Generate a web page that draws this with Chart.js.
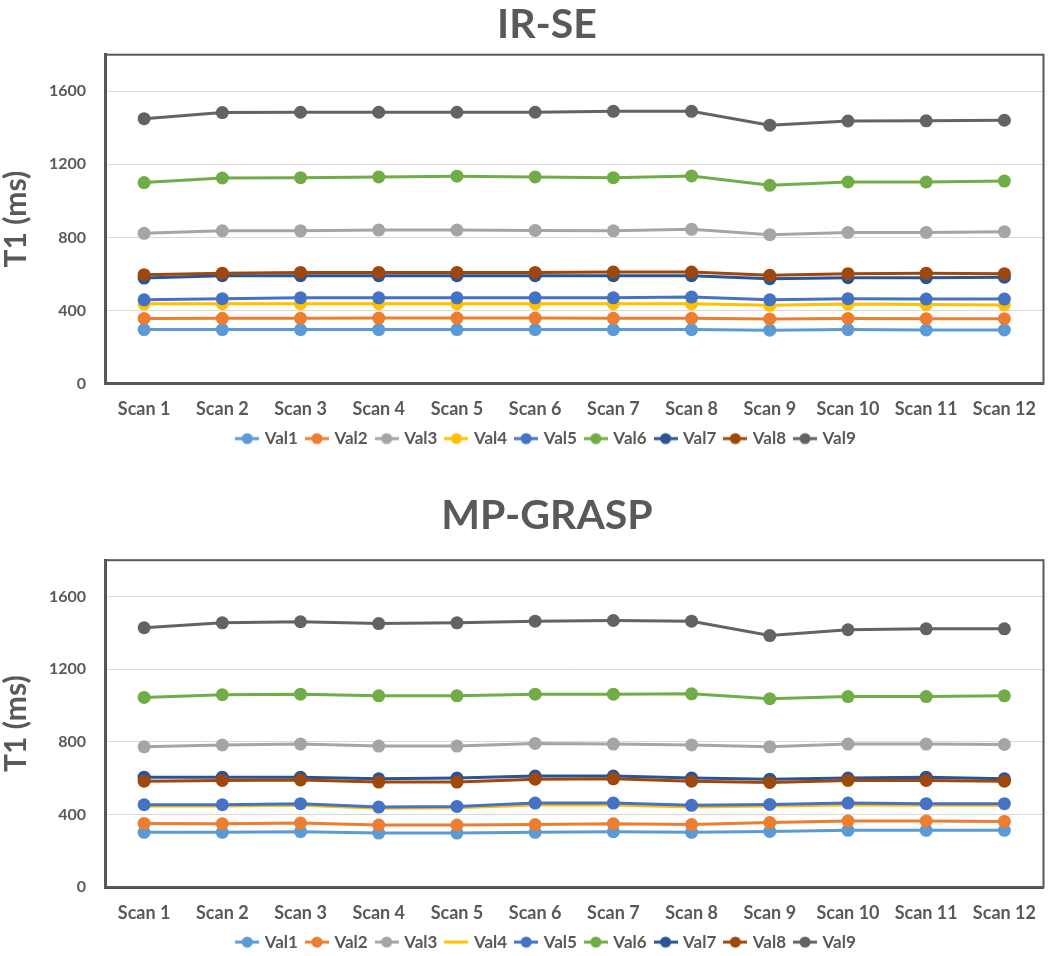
<!DOCTYPE html>
<html>
<head>
<meta charset="utf-8">
<script src="https://cdn.jsdelivr.net/npm/chart.js@4.4.1/dist/chart.umd.min.js"></script>
<style>
  html, body { margin: 0; padding: 0; background: #ffffff; overflow: hidden; }
  .wrap { position: absolute; left: 0; width: 1050px; height: 478px; }
</style>
</head>
<body>
<div class="wrap" style="top:0px"><canvas id="c1" width="1050" height="478"></canvas></div>
<div class="wrap" style="top:478px"><canvas id="c2" width="1050" height="478"></canvas></div>
<script>
// ---------- DATA ----------
const categories = ["Scan 1","Scan 2","Scan 3","Scan 4","Scan 5","Scan 6","Scan 7","Scan 8","Scan 9","Scan 10","Scan 11","Scan 12"];
const seriesNames = ["Val1","Val2","Val3","Val4","Val5","Val6","Val7","Val8","Val9"];
const yTicks = [0, 400, 800, 1200, 1600];
const chartTitles = ["IR-SE", "MP-GRASP"];

// IR-SE
const irse_val1 = [295,295,295,295,295,295,295,295,292,295,293,293];
const irse_val2 = [356,357,357,358,358,358,357,357,353,356,355,355];
const irse_val3 = [822,836,836,840,840,838,836,844,815,827,827,831];
const irse_val4 = [436,437,437,437,437,437,437,437,428,435,432,430];
const irse_val5 = [458,464,469,469,469,469,469,473,458,464,462,462];
const irse_val6 = [1100,1125,1127,1131,1135,1131,1127,1136,1085,1103,1103,1108];
const irse_val7 = [577,590,590,590,590,590,590,590,574,579,579,582];
const irse_val8 = [596,604,608,608,608,608,610,610,592,601,604,601];
const irse_val9 = [1450,1483,1485,1485,1485,1485,1490,1490,1414,1437,1438,1441];

// MP-GRASP
const grasp_val1 = [301,301,305,297,297,301,305,301,306,312,312,312];
const grasp_val2 = [350,349,352,341,341,344,349,344,355,363,363,361];
const grasp_val3 = [772,782,787,776,776,791,787,782,772,787,787,785];
const grasp_val4 = [446,446,450,434,436,452,452,441,446,452,450,450];
const grasp_val5 = [453,453,459,440,444,462,462,450,455,462,459,459];
const grasp_val6 = [1044,1059,1062,1053,1053,1062,1062,1064,1037,1049,1049,1053];
const grasp_val7 = [605,605,605,596,600,611,611,600,594,600,605,596];
const grasp_val8 = [583,587,590,578,578,594,596,583,576,587,587,583];
const grasp_val9 = [1428,1455,1461,1451,1455,1464,1468,1464,1385,1417,1422,1422];

// ---------- STYLE ----------
const colors = ["#5B9BD5","#ED7D31","#A5A5A5","#FFC000","#4472C4","#70AD47","#2A5493","#9E480E","#636363"];
const textColor = "#595959";
const FONT = "Lato, 'Open Sans', 'DejaVu Sans', sans-serif";

function makeMarker(color, withDot) {
  const c = document.createElement('canvas');
  c.width = 24; c.height = 14;
  const g = c.getContext('2d');
  g.strokeStyle = color; g.lineWidth = 3;
  g.beginPath(); g.moveTo(0, 7); g.lineTo(24, 7); g.stroke();
  if (withDot) {
    g.fillStyle = color;
    g.beginPath(); g.arc(12, 7, 5.5, 0, Math.PI * 2); g.fill();
  }
  return c;
}

const framePlugin = {
  id: 'frame',
  beforeDatasetsDraw(chart) {
    const {ctx, chartArea: {left, top, right, bottom}} = chart;
    ctx.save();
    ctx.strokeStyle = '#595959';
    ctx.lineWidth = 2;
    ctx.strokeRect(left, top, right - left, bottom - top);
    ctx.restore();
  }
};

function buildChart(canvasId, title, seriesData, noMarker, layoutCfg) {
  const markers = seriesNames.map((n, i) => makeMarker(colors[i], !noMarker.includes(i)));
  const datasets = seriesNames.map((name, i) => ({
    label: name,
    data: seriesData[i],
    borderColor: colors[i],
    backgroundColor: colors[i],
    pointBackgroundColor: colors[i],
    pointBorderWidth: 0,
    pointRadius: noMarker.includes(i) ? 0 : 6.5,
    borderWidth: 3,
    tension: 0,
    order: seriesNames.length - i
  }));
  return new Chart(document.getElementById(canvasId), {
    type: 'line',
    data: { labels: categories, datasets },
    plugins: [framePlugin],
    options: {
      responsive: false,
      animation: false,
      devicePixelRatio: 1,
      layout: { padding: layoutCfg.padding },
      plugins: {
        tooltip: { enabled: false },
        title: {
          display: true,
          text: title,
          color: textColor,
          font: { family: FONT, size: 41, weight: 'bold', lineHeight: 1.2 },
          padding: layoutCfg.titlePadding
        },
        legend: {
          display: true,
          position: 'bottom',
          maxHeight: 30,
          labels: {
            color: textColor,
            font: { family: FONT, size: 17, weight: 'bold' },
            usePointStyle: true,
            pointStyleWidth: 18,
            padding: 10,
            generateLabels(chart) {
              const items = Chart.defaults.plugins.legend.labels.generateLabels(chart);
              items.sort((a, b) => a.datasetIndex - b.datasetIndex);
              items.forEach(it => { it.pointStyle = markers[it.datasetIndex]; });
              return items;
            }
          }
        }
      },
      scales: {
        x: {
          offset: true,
          grid: { display: true, drawOnChartArea: false, drawTicks: true, tickLength: 15, tickColor: 'rgba(0,0,0,0)' },
          border: { display: true, color: '#505050', width: 3 },
          ticks: { color: textColor, font: { family: FONT, size: 18, weight: 'bold' }, padding: 0, maxRotation: 0 }
        },
        y: {
          min: 0,
          max: 1800,
          afterBuildTicks(scale) {
            scale.ticks = yTicks.map(v => ({ value: v }));
          },
          afterFit(scale) { scale.width = 57; },
          grid: { color: '#D9D9D9', lineWidth: 1, drawTicks: false },
          border: { display: true, color: '#505050', width: 3 },
          ticks: {
            color: textColor,
            font: { family: FONT, size: 16, weight: 'bold' },
            padding: 19,
            callback: (v) => String(v)
          },
          title: {
            display: true,
            text: 'T1 (ms)',
            color: textColor,
            font: { family: FONT, size: 30, weight: 'bold', lineHeight: 1.2 },
            padding: { top: -50, bottom: 0 }
          }
        }
      }
    }
  });
}

buildChart('c1', chartTitles[0],
  [irse_val1, irse_val2, irse_val3, irse_val4, irse_val5, irse_val6, irse_val7, irse_val8, irse_val9],
  [],
  { padding: { left: 48, right: 4, top: 0, bottom: 27.9 }, titlePadding: { top: 0, bottom: 5.5 } });

buildChart('c2', chartTitles[1],
  [grasp_val1, grasp_val2, grasp_val3, grasp_val4, grasp_val5, grasp_val6, grasp_val7, grasp_val8, grasp_val9],
  [3],
  { padding: { left: 48, right: 4, top: 0, bottom: 2.4 }, titlePadding: { top: 13, bottom: 20 } });
</script>
</body>
</html>
